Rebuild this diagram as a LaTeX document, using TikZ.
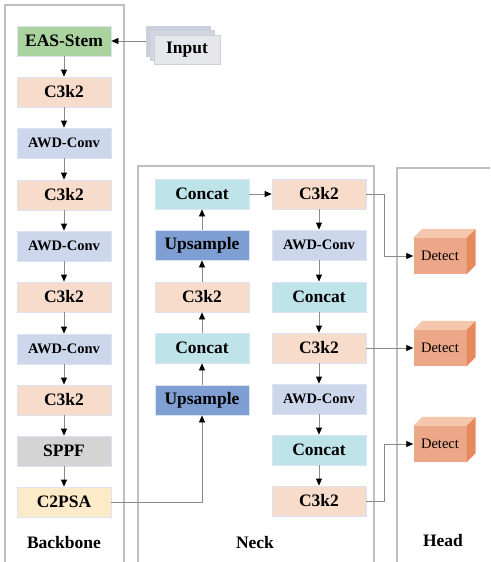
\documentclass[tikz,border=0pt]{standalone}
\usepackage{fontspec}
\setmainfont{Liberation Serif}
\usetikzlibrary{arrows.meta}
\definecolor{stemgreen}{HTML}{ABD3A0}
\definecolor{cpeach}{HTML}{F8DCCB}
\definecolor{awdblue}{HTML}{CDD7EC}
\definecolor{catcyan}{HTML}{BEE4EA}
\definecolor{upblue}{HTML}{7F9FD2}
\definecolor{sppfgray}{HTML}{D4D4D4}
\definecolor{psayellow}{HTML}{FCEAC8}
\definecolor{inpfront}{HTML}{E6E7EA}
\definecolor{inpback}{HTML}{C9D0DB}
\definecolor{detfront}{HTML}{EBA787}
\definecolor{dettop}{HTML}{F5C6AE}
\definecolor{detside}{HTML}{E68A5E}
\definecolor{boxedge}{HTML}{DCE4F4}
\definecolor{panelgray}{HTML}{BFBFBF}
\definecolor{linegray}{HTML}{8A8A8A}

\begin{document}
\begin{tikzpicture}[x=1pt,y=-1pt,
  blk/.style={draw=boxedge, line width=0.8pt, minimum width=94pt, minimum height=30pt, inner sep=0pt, font=\fontsize{17.5}{20}\selectfont\bfseries},
  c3k/.style={blk, fill=cpeach},
  awd/.style={blk, fill=awdblue, font=\fontsize{14.5}{17}\selectfont\bfseries},
  cat/.style={blk, fill=catcyan},
  ups/.style={blk, fill=upblue},
  det/.style={fill=detfront, minimum width=53pt, minimum height=36pt, inner sep=0pt, font=\fontsize{14.5}{17}\selectfont},
  panel/.style={draw=panelgray, line width=1.3pt},
  paneltitle/.style={font=\fontsize{17.5}{20}\selectfont\bfseries},
  flow/.style={draw=linegray, line width=0.8pt, -{Triangle[length=7pt,width=6pt,color=black]}}]
\useasboundingbox (0,0) rectangle (490,562);

% panels
\draw[panel] (5,562) -- (5,5) -- (124,5) -- (124,562);
\draw[panel] (138,562) -- (138,166) -- (374,166) -- (374,562);
\draw[panel] (397,562) -- (397,168) -- (490,168);
\node[paneltitle] at (64,543) (tb) {Backbone};
\node[paneltitle] at (255,543) (tn) {Neck};
\node[paneltitle] at (443,541) (th) {Head};

% input
\node[draw=inpback, fill=inpback, minimum width=64pt, minimum height=30pt] at (178,41) (inb) {};
\node[draw=inpback, fill=inpback!70!inpfront, minimum width=64pt, minimum height=30pt] at (182,45) (inm) {};
\node[draw=inpback, fill=inpfront, minimum width=66pt, minimum height=29pt, inner sep=0pt, font=\fontsize{17.5}{20}\selectfont\bfseries] at (187,50) (inp) {Input};

% backbone
\node[blk, fill=stemgreen] at (64,41) (stem) {EAS-Stem};
\node[c3k] at (64,92) (b1) {C3k2};
\node[awd] at (64,143) (b2) {AWD-Conv};
\node[c3k] at (64,195) (b3) {C3k2};
\node[awd] at (64,246) (b4) {AWD-Conv};
\node[c3k] at (64,297) (b5) {C3k2};
\node[awd] at (64,349) (b6) {AWD-Conv};
\node[c3k] at (64,400) (b7) {C3k2};
\node[blk, fill=sppfgray] at (64,451) (sppf) {SPPF};
\node[blk, fill=psayellow] at (64,502) (psa) {C2PSA};

\draw[flow] (inb.west) -- (stem.east);
\draw[flow] (stem) -- (b1);
\draw[flow] (b1) -- (b2);
\draw[flow] (b2) -- (b3);
\draw[flow] (b3) -- (b4);
\draw[flow] (b4) -- (b5);
\draw[flow] (b5) -- (b6);
\draw[flow] (b6) -- (b7);
\draw[flow] (b7) -- (sppf);
\draw[flow] (sppf) -- (psa);

% neck, upward column
\node[cat] at (202,194) (u5) {Concat};
\node[ups] at (202,245) (u4) {Upsample};
\node[c3k] at (202,297) (u3) {C3k2};
\node[cat] at (202,348) (u2) {Concat};
\node[ups] at (202,400) (u1) {Upsample};

\draw[flow] (psa.east) -| (u1.south);
\draw[flow] (u1) -- (u2);
\draw[flow] (u2) -- (u3);
\draw[flow] (u3) -- (u4);
\draw[flow] (u4) -- (u5);

% neck, downward column
\node[c3k] at (319,194) (d1) {C3k2};
\node[awd] at (319,245) (d2) {AWD-Conv};
\node[cat] at (319,297) (d3) {Concat};
\node[c3k] at (319,348) (d4) {C3k2};
\node[awd] at (319,399) (d5) {AWD-Conv};
\node[cat] at (319,450) (d6) {Concat};
\node[c3k] at (319,501) (d7) {C3k2};

\draw[flow] (u5) -- (d1);
\draw[flow] (d1) -- (d2);
\draw[flow] (d2) -- (d3);
\draw[flow] (d3) -- (d4);
\draw[flow] (d4) -- (d5);
\draw[flow] (d5) -- (d6);
\draw[flow] (d6) -- (d7);

% head
\node[det] at (440,256) (det1) {Detect};
\fill[dettop] (det1.north west) -- ++(9,-9) -- ([shift={(9pt,9pt)}]det1.north east) -- (det1.north east) -- cycle;
\fill[detside] (det1.north east) -- ++(9,-9) -- ([shift={(9pt,9pt)}]det1.south east) -- (det1.south east) -- cycle;
\node[det] at (440,348) (det2) {Detect};
\fill[dettop] (det2.north west) -- ++(9,-9) -- ([shift={(9pt,9pt)}]det2.north east) -- (det2.north east) -- cycle;
\fill[detside] (det2.north east) -- ++(9,-9) -- ([shift={(9pt,9pt)}]det2.south east) -- (det2.south east) -- cycle;
\node[det] at (440,444) (det3) {Detect};
\fill[dettop] (det3.north west) -- ++(9,-9) -- ([shift={(9pt,9pt)}]det3.north east) -- (det3.north east) -- cycle;
\fill[detside] (det3.north east) -- ++(9,-9) -- ([shift={(9pt,9pt)}]det3.south east) -- (det3.south east) -- cycle;

\draw[flow] (d1.east) -- ++(18,0) |- (det1.west);
\draw[flow] (d4.east) -- (det2.west);
\draw[flow] (d7.east) -- ++(18,0) |- (det3.west);
\end{tikzpicture}
\end{document}
